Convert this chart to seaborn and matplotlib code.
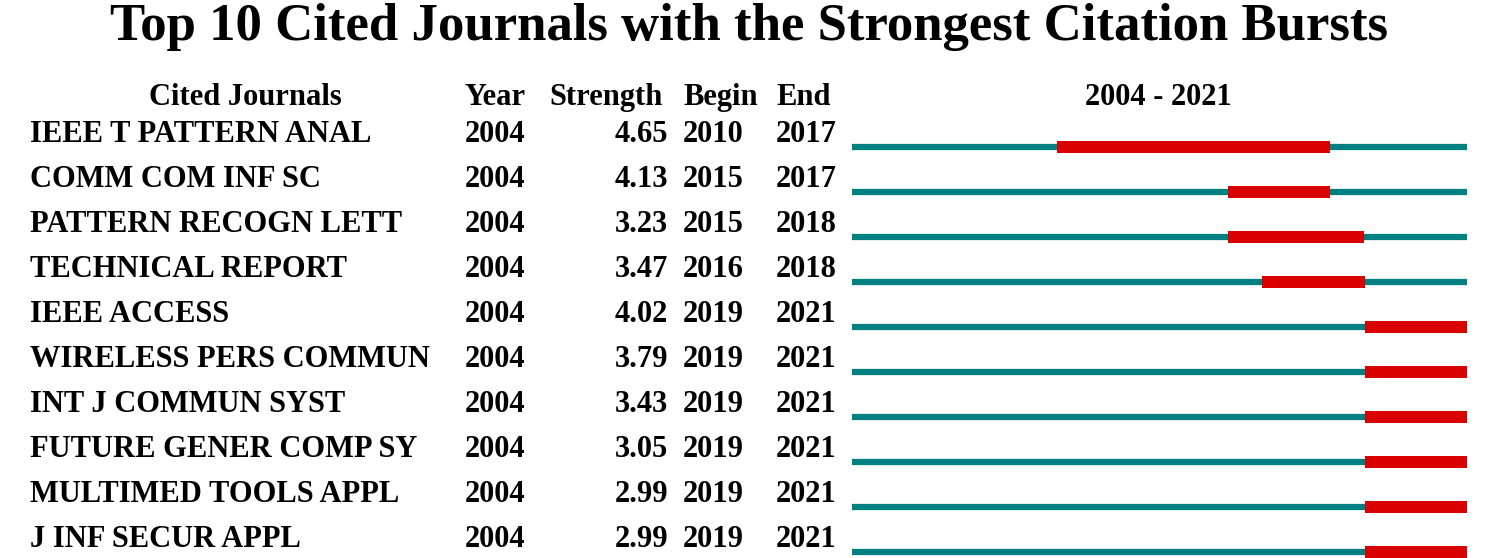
import matplotlib
matplotlib.use("Agg")
import matplotlib.pyplot as plt
import seaborn as sns

# ==============================
# DATA
# ==============================

journals = [
    "IEEE T PATTERN ANAL",
    "COMM COM INF SC",
    "PATTERN RECOGN LETT",
    "TECHNICAL REPORT",
    "IEEE ACCESS",
    "WIRELESS PERS COMMUN",
    "INT J COMMUN SYST",
    "FUTURE GENER COMP SY",
    "MULTIMED TOOLS APPL",
    "J INF SECUR APPL",
]
years = [2004, 2004, 2004, 2004, 2004, 2004, 2004, 2004, 2004, 2004]
strength = [4.65, 4.13, 3.23, 3.47, 4.02, 3.79, 3.43, 3.05, 2.99, 2.99]
begin = [2010, 2015, 2015, 2016, 2019, 2019, 2019, 2019, 2019, 2019]
end = [2017, 2017, 2018, 2018, 2021, 2021, 2021, 2021, 2021, 2021]
headers = ["Cited Journals", "Year", "Strength", "Begin", "End"]
title = "Top 10 Cited Journals with the Strongest Citation Bursts"
span_start, span_end = 2004, 2021

# ==============================
# STYLE
# ==============================

sns.set_theme(style="white")
plt.rcParams["font.family"] = ["Liberation Serif", "DejaVu Serif"]
plt.rcParams["font.weight"] = "bold"
plt.rcParams["text.color"] = "black"

W, H, DPI = 1499, 558, 100
TEAL = "#008080"
RED = "#d80000"

fig = plt.figure(figsize=(W / DPI, H / DPI), dpi=DPI)

# rows in index units, row i line sits at pixel 147 + 45 * i
row_px0, row_step = 147, 45
ylim = ((H - row_px0) / row_step, -row_px0 / row_step)


def px(y):
    # pixel row -> row units
    return (y - row_px0) / row_step


# table axes: x in pixels, y in row units
tab = fig.add_axes([0, 0, 1, 1])
tab.set_xlim(0, W)
tab.set_ylim(*ylim)
tab.axis("off")

# timeline axes: x in years
x0, x1 = 852, 1467
tl = fig.add_axes([x0 / W, 0, (x1 - x0) / W, 1])
tl.set_xlim(span_start, span_end + 1)
tl.set_ylim(*ylim)
tl.axis("off")

rows = list(range(len(journals)))

# title
tab.text(W / 2, px(40), title, ha="center", va="baseline",
         fontsize=38, fontweight="bold")

# header row
hy = px(105)
fs = 22
tab.text(245, hy, headers[0], ha="center", va="baseline", fontsize=fs)
tab.text(465, hy, headers[1], ha="left", va="baseline", fontsize=fs)
tab.text(606, hy, headers[2], ha="center", va="baseline", fontsize=fs)
tab.text(683, hy, headers[3], ha="left", va="baseline", fontsize=fs)
tab.text(776, hy, headers[4], ha="left", va="baseline", fontsize=fs)
tab.text(1158, hy, f"{span_start} - {span_end}", ha="center",
         va="baseline", fontsize=fs)

# body rows, baseline ~5 px above the timeline
base_off = -5 / row_step
for i in rows:
    y = i + base_off
    tab.text(30, y, journals[i], ha="left", va="baseline", fontsize=fs)
    tab.text(465, y, str(years[i]), ha="left", va="baseline", fontsize=fs)
    tab.text(668, y, f"{strength[i]:.2f}", ha="right", va="baseline",
             fontsize=fs)
    tab.text(683, y, str(begin[i]), ha="left", va="baseline", fontsize=fs)
    tab.text(776, y, str(end[i]), ha="left", va="baseline", fontsize=fs)

# timeline: teal base line and red burst
tl.hlines(rows, span_start, span_end + 1, color=TEAL, linewidth=4.5,
          zorder=1)
widths = [e - b + 1 for b, e in zip(begin, end)]
tl.barh(rows, widths, left=begin, height=0.27, color=RED, linewidth=0,
        zorder=2)

fig.savefig("out.png", dpi=DPI)
